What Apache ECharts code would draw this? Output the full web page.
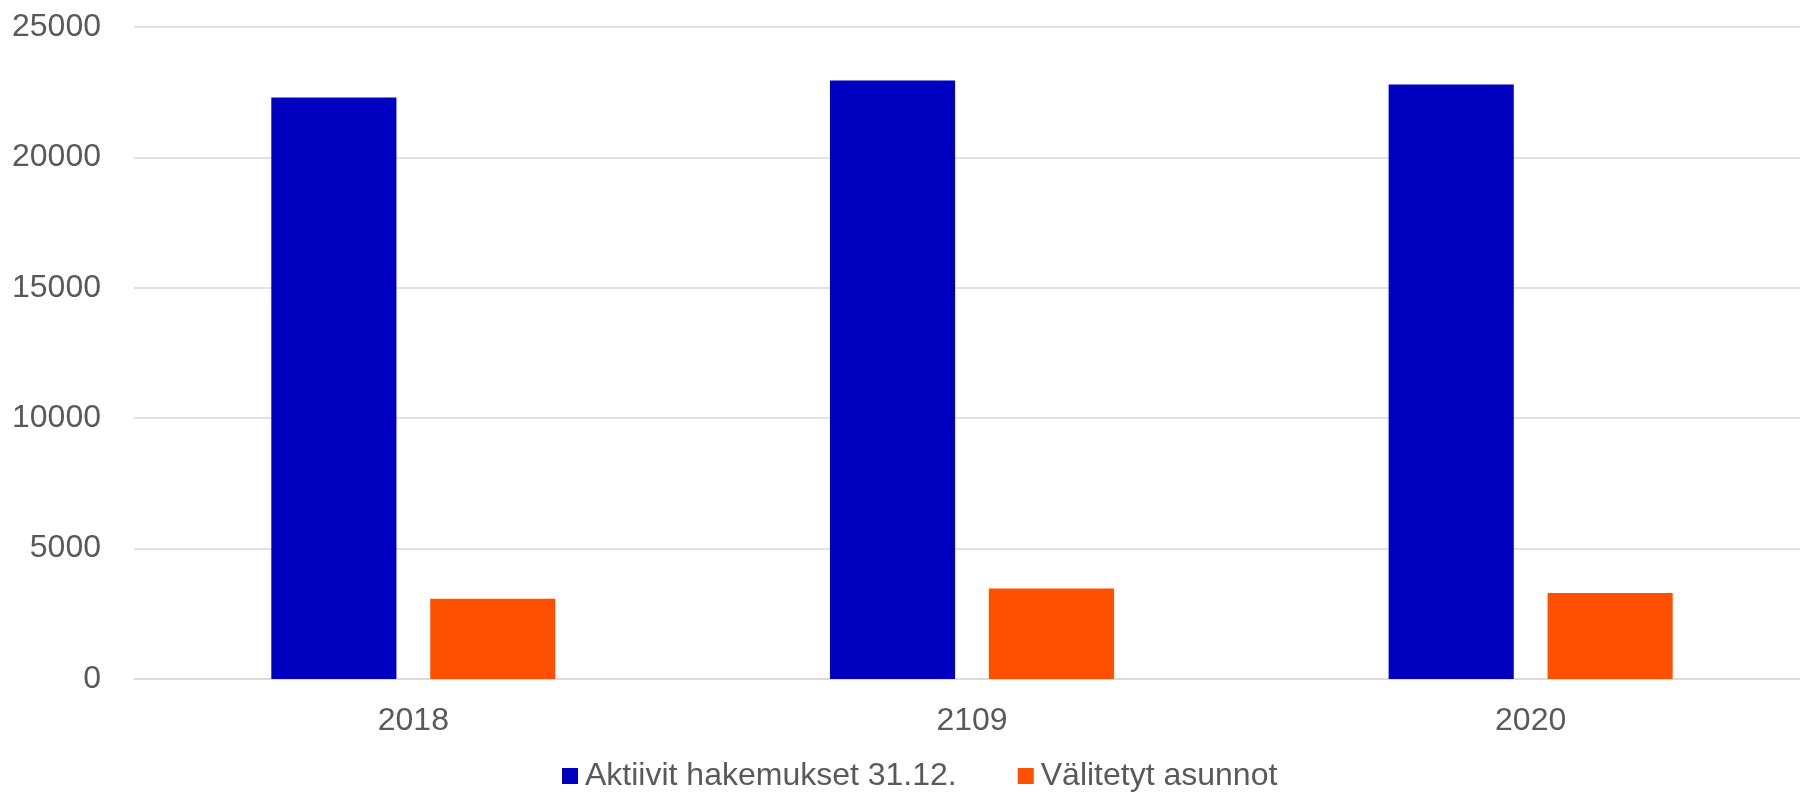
<!DOCTYPE html>
<html>
<head>
<meta charset="utf-8">
<script src="https://cdn.jsdelivr.net/npm/echarts@6/dist/echarts.min.js"></script>
<style>
html,body{margin:0;padding:0;background:#fff;overflow:hidden;}
#wrap{width:1800px;height:792px;overflow:hidden;position:relative;}
#chart{width:1810px;height:792px;}
</style>
</head>
<body>
<div id="wrap"><div id="chart"></div></div>
<script>
const categories = ['2018', '2109', '2020'];
const activeApplications = [22300, 22950, 22800];
const mediatedHomes = [3080, 3470, 3300];
const seriesNames = ['Aktiivit hakemukset 31.12.', 'Välitetyt asunnot'];

const chart = echarts.init(document.getElementById('chart'));
const font = '"Liberation Sans", Arial, sans-serif';
chart.setOption({
  animation: false,
  textStyle: { fontFamily: font },
  grid: { left: 134, right: 0, top: 27, bottom: 113, containLabel: false },
  legend: {
    left: 557, top: 755,
    itemWidth: 16, itemHeight: 16, itemGap: 61,
    icon: 'rect',
    textStyle: { fontFamily: font, fontSize: 32, color: '#595959', padding: [0, 0, 0, 2] },
    data: seriesNames
  },
  xAxis: {
    type: 'category',
    data: categories,
    axisLine: { lineStyle: { color: '#d9d9d9', width: 1.5 } },
    axisTick: { show: false },
    axisLabel: { fontFamily: font, fontSize: 32, color: '#595959', margin: 26 }
  },
  yAxis: {
    type: 'value',
    min: 0, max: 25000, interval: 5000,
    axisLine: { show: false },
    axisTick: { show: false },
    splitLine: { lineStyle: { color: '#d9d9d9', width: 1.5 } },
    axisLabel: { fontFamily: font, fontSize: 32, color: '#595959', margin: 33,
      formatter: function (v) { return String(v); } }
  },
  series: [
    {
      name: seriesNames[0], type: 'bar', data: activeApplications,
      barWidth: '22.4%', barGap: '27%',
      itemStyle: { color: '#0000C0' }
    },
    {
      name: seriesNames[1], type: 'bar', data: mediatedHomes,
      barWidth: '22.4%', barGap: '27%',
      itemStyle: { color: '#FF5000' }
    }
  ]
});
</script>
</body>
</html>
